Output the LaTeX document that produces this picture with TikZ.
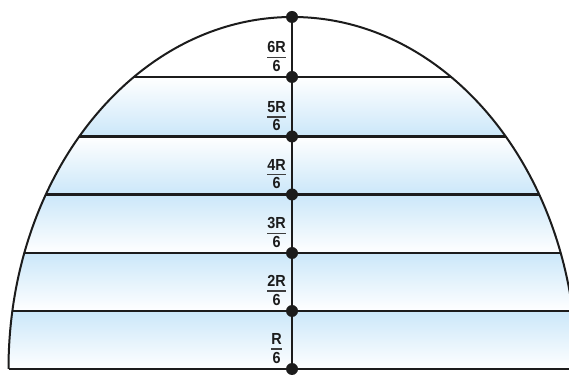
\documentclass[tikz,border=0pt]{standalone}
\usepackage{fontspec}
\newfontfamily\labfont[FakeStretch=0.9]{Liberation Sans}
\definecolor{sky}{RGB}{203,231,249}
\definecolor{ink}{RGB}{28,28,28}
\begin{document}
\begin{tikzpicture}[x=1pt,y=1pt,
  hline/.style={line width=2.6pt,draw=ink},
  arcline/.style={line width=2pt,draw=ink},
  vline/.style={line width=1.8pt,draw=ink},
  dot/.style={fill=ink},
  num/.style={inner sep=0pt,anchor=base,text=ink,font=\labfont\bfseries\fontsize{16}{18}\selectfont},
  fracbar/.style={line width=1.4pt,draw=ink!85}]
\useasboundingbox (0,0) rectangle (569,374);
\clip (0,0) rectangle (569,374);
% named points on the axis
\coordinate (p0) at (292,5);
\coordinate (p1) at (292,63);
\coordinate (p2) at (292,121);
\coordinate (p3) at (292,179.5);
\coordinate (p4) at (292,237.5);
\coordinate (p5) at (292,297);
\coordinate (p6) at (292,357);
% line end points on the dome
\coordinate (l0) at (8.5,5);    \coordinate (r0) at (576.5,5);
\coordinate (l1) at (12.4,63);  \coordinate (r1) at (572.6,63);
\coordinate (l2) at (24.4,121); \coordinate (r2) at (560.6,121);
\coordinate (l3) at (45.8,179.5); \coordinate (r3) at (539.2,179.5);
\coordinate (l4) at (79.3,237.5); \coordinate (r4) at (505.7,237.5);
\coordinate (l5) at (133.9,297);  \coordinate (r5) at (451.1,297);
% shaded strips
\begin{scope}
\clip (l0) arc[start angle=180,end angle=0,x radius=284,y radius=352] -- cycle;
\shade[top color=sky,bottom color=white] (0,5) rectangle (569,63);
\shade[top color=sky,bottom color=white] (0,63) rectangle (569,121);
\shade[top color=sky,bottom color=white] (0,121) rectangle (569,179.5);
\shade[top color=white,bottom color=sky] (0,179.5) rectangle (569,237.5);
\shade[top color=white,bottom color=sky] (0,237.5) rectangle (569,297);
\fill[white] (0,297) rectangle (569,360);
\end{scope}
% horizontal lines
\draw[hline] (l0) -- (r0);
\draw[hline] (l1) -- (r1);
\draw[hline] (l2) -- (r2);
\draw[hline] (l3) -- (r3);
\draw[hline] (l4) -- (r4);
\draw[hline] (l5) -- (r5);
% dome
\draw[arcline] (l0) arc[start angle=180,end angle=0,x radius=284,y radius=352];
% axis
\draw[vline] (p0) -- (p6);
\foreach \i in {0,...,6} \fill[dot] (p\i) circle (6);
% labels
\foreach \i/\t/\y in {1/R/5,2/2R/63,3/3R/121,4/4R/179.5,5/5R/237.5,6/6R/297}{
  \node[num] (n\i) at (276.5,\y+24) {\t};
  \node[num] (d\i) at (276.5,\y+5.5) {6};
  \draw[fracbar] ([yshift=-4pt]n\i.south west) -- ([yshift=-4pt]n\i.south east);
}
\end{tikzpicture}
\end{document}
